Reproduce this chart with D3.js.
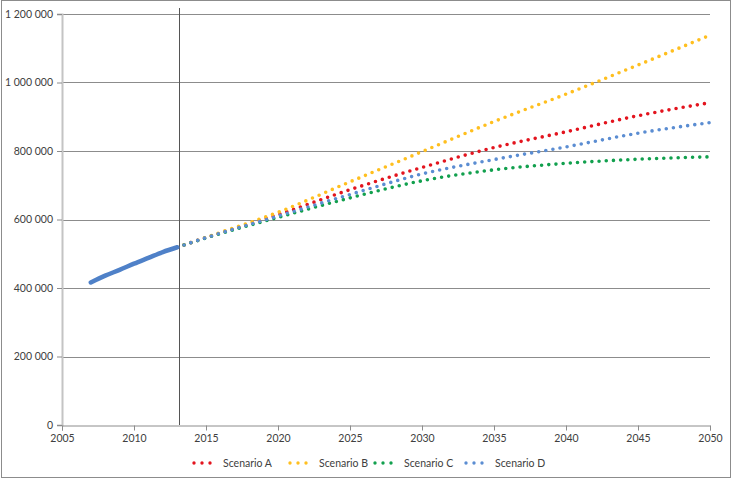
<!DOCTYPE html>
<html>
<head>
<meta charset="utf-8">
<script src="https://cdn.jsdelivr.net/npm/d3@7"></script>
<style>
  html, body { margin: 0; padding: 0; background: #ffffff; }
  svg text { font-family: Lato, "Open Sans", sans-serif; fill: #404040; }
</style>
</head>
<body>
<svg id="chart" width="733" height="479"></svg>
<script>
// ---- data ----
const histYears = [2007, 2008, 2009, 2010, 2011, 2012, 2013];
const histValues = [416000, 436000, 453000, 471000, 488000, 505000, 519000];

const scenYears = [2013, 2015, 2020, 2025, 2030, 2035, 2040, 2045, 2050];
const scenarioA = [519000, 547000, 614000, 687000, 752000, 810000, 856000, 903000, 941000];
const scenarioB = [519000, 548000, 621000, 710000, 798000, 886000, 966000, 1051000, 1138000];
const scenarioC = [519000, 546000, 606000, 663000, 713000, 745000, 764000, 776000, 783000];
const scenarioD = [519000, 547000, 610000, 673000, 733000, 775000, 812000, 852000, 883000];

const seriesNames = ["Scenario A", "Scenario B", "Scenario C", "Scenario D"];
const seriesColors = ["#e3141e", "#ffbf1f", "#12a04e", "#5b8dd2"];
const seriesValues = [scenarioA, scenarioB, scenarioC, scenarioD];

const xTicks = [2005, 2010, 2015, 2020, 2025, 2030, 2035, 2040, 2045, 2050];
const yTicks = [0, 200000, 400000, 600000, 800000, 1000000, 1200000];
const markerYear = 2013.1;

// ---- layout ----
const svg = d3.select("#chart");
const x = d3.scaleLinear().domain([2005, 2050]).range([62, 710]);
const y = d3.scaleLinear().domain([0, 1200000]).range([425, 14]);

// outer border
svg.append("rect").attr("x", 1.5).attr("y", 0.5).attr("width", 729).attr("height", 477)
  .attr("fill", "none").attr("stroke", "#8c8c8c").attr("stroke-width", 1);

// gridlines
svg.append("g").selectAll("line").data(yTicks.filter(d => d > 0)).join("line")
  .attr("x1", 62).attr("x2", 710)
  .attr("y1", d => Math.round(y(d)) + 0.5).attr("y2", d => Math.round(y(d)) + 0.5)
  .attr("stroke", "#8c8c8c").attr("stroke-width", 1);

// y axis
const fmt = v => d3.format(",")(v).replace(/,/g, " ");
const yAxis = svg.append("g").attr("transform", "translate(62,0)")
  .call(d3.axisLeft(y).tickValues(yTicks).tickFormat(fmt).tickSize(5).tickPadding(4));
yAxis.select(".domain").attr("stroke", "#c4c4c4").attr("stroke-width", 2);
yAxis.selectAll(".tick line").attr("stroke", "#8c8c8c");
yAxis.selectAll("text").attr("font-size", "10.5px").attr("fill", "#404040");

// x axis
const xAxis = svg.append("g").attr("transform", "translate(0,425.5)")
  .call(d3.axisBottom(x).tickValues(xTicks).tickFormat(d3.format("d")).tickSize(5).tickPadding(4));
xAxis.select(".domain").attr("stroke", "#8c8c8c");
xAxis.selectAll(".tick line").attr("stroke", "#8c8c8c");
xAxis.selectAll("text").attr("font-size", "10.5px").attr("fill", "#404040");

// vertical marker line
svg.append("line")
  .attr("x1", Math.round(x(markerYear)) + 0.5).attr("x2", Math.round(x(markerYear)) + 0.5)
  .attr("y1", 8).attr("y2", 425)
  .attr("stroke", "#555555").attr("stroke-width", 1);

// scenario lines (dotted)
const line = d3.line().x(d => x(d[0])).y(d => y(d[1])).curve(d3.curveMonotoneX);
seriesValues.forEach((vals, i) => {
  svg.append("path")
    .datum(scenYears.map((yr, j) => [yr, vals[j]]))
    .attr("d", line)
    .attr("fill", "none")
    .attr("stroke", seriesColors[i])
    .attr("stroke-width", 3.6)
    .attr("stroke-linecap", "round")
    .attr("stroke-dasharray", "0 7.2");
});

// historical line
svg.append("path")
  .datum(histYears.map((yr, j) => [yr, histValues[j]]))
  .attr("d", line)
  .attr("fill", "none")
  .attr("stroke", "#4f81c8")
  .attr("stroke-width", 4.5)
  .attr("stroke-linecap", "round");

// legend
const legendX = [194, 290, 375, 466];
const legend = svg.append("g");
seriesNames.forEach((name, i) => {
  const g = legend.append("g").attr("transform", `translate(${legendX[i]},463)`);
  g.append("line").attr("x1", 0).attr("x2", 24).attr("y1", 0).attr("y2", 0)
    .attr("stroke", seriesColors[i]).attr("stroke-width", 3.4)
    .attr("stroke-linecap", "round").attr("stroke-dasharray", "0 8");
  g.append("text").attr("x", 29).attr("y", 0).attr("dy", "0.35em")
    .attr("font-size", "10.5px").text(name);
});
</script>
</body>
</html>
